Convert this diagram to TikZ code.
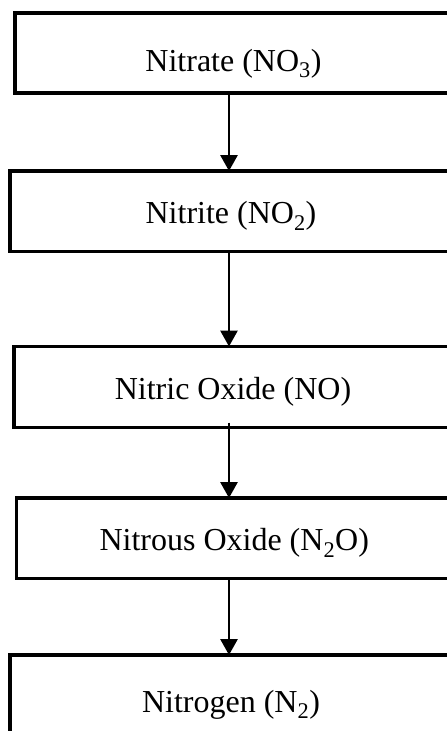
\documentclass[tikz,border=0pt]{standalone}
\usepackage{fontspec}
\setmainfont{Liberation Serif}
\usetikzlibrary{arrows.meta, positioning, calc}

\begin{document}
\begin{tikzpicture}[x=1pt, y=-1pt,
  stage/.style={draw, line width=3.2pt, anchor=north west, inner sep=0pt, outer sep=0pt,
    text height=25pt, text depth=0pt, font=\fontsize{32}{38}\selectfont},
  flow/.style={line width=2.9pt, -{Triangle[width=17pt, length=16pt]}},
]
  \useasboundingbox (0,0) rectangle (447,731);

  % Boxes (right side runs off the page)
  \node[stage, minimum width=437pt, minimum height=80pt, text height=36pt] (nitrate) at (15,13) {Nitrate (NO\textsubscript{3})};
  \node[stage, minimum width=442pt, minimum height=80.5pt] (nitrite) at (10,171) {Nitrite (NO\textsubscript{2})};
  \node[stage, minimum width=438pt, minimum height=81pt] (nitric) at (14,346.5) {Nitric Oxide (NO)};
  \node[stage, minimum width=435.5pt, minimum height=80.5pt] (nitrous) at (16.5,498) {Nitrous Oxide (N\textsubscript{2}O)};
  \node[stage, minimum width=442pt, minimum height=90pt] (nitrogen) at (10,655) {Nitrogen (N\textsubscript{2})};

  % Arrows
  \coordinate (ax) at (229,0);
  \draw[flow] (nitrate.south -| ax) -- (nitrite.north -| ax);
  \draw[flow] (nitrite.south -| ax) -- (nitric.north -| ax);
  \draw[flow] ([yshift=5pt]nitric.south -| ax) -- (nitrous.north -| ax);
  \draw[flow] (nitrous.south -| ax) -- (nitrogen.north -| ax);
\end{tikzpicture}
\end{document}
